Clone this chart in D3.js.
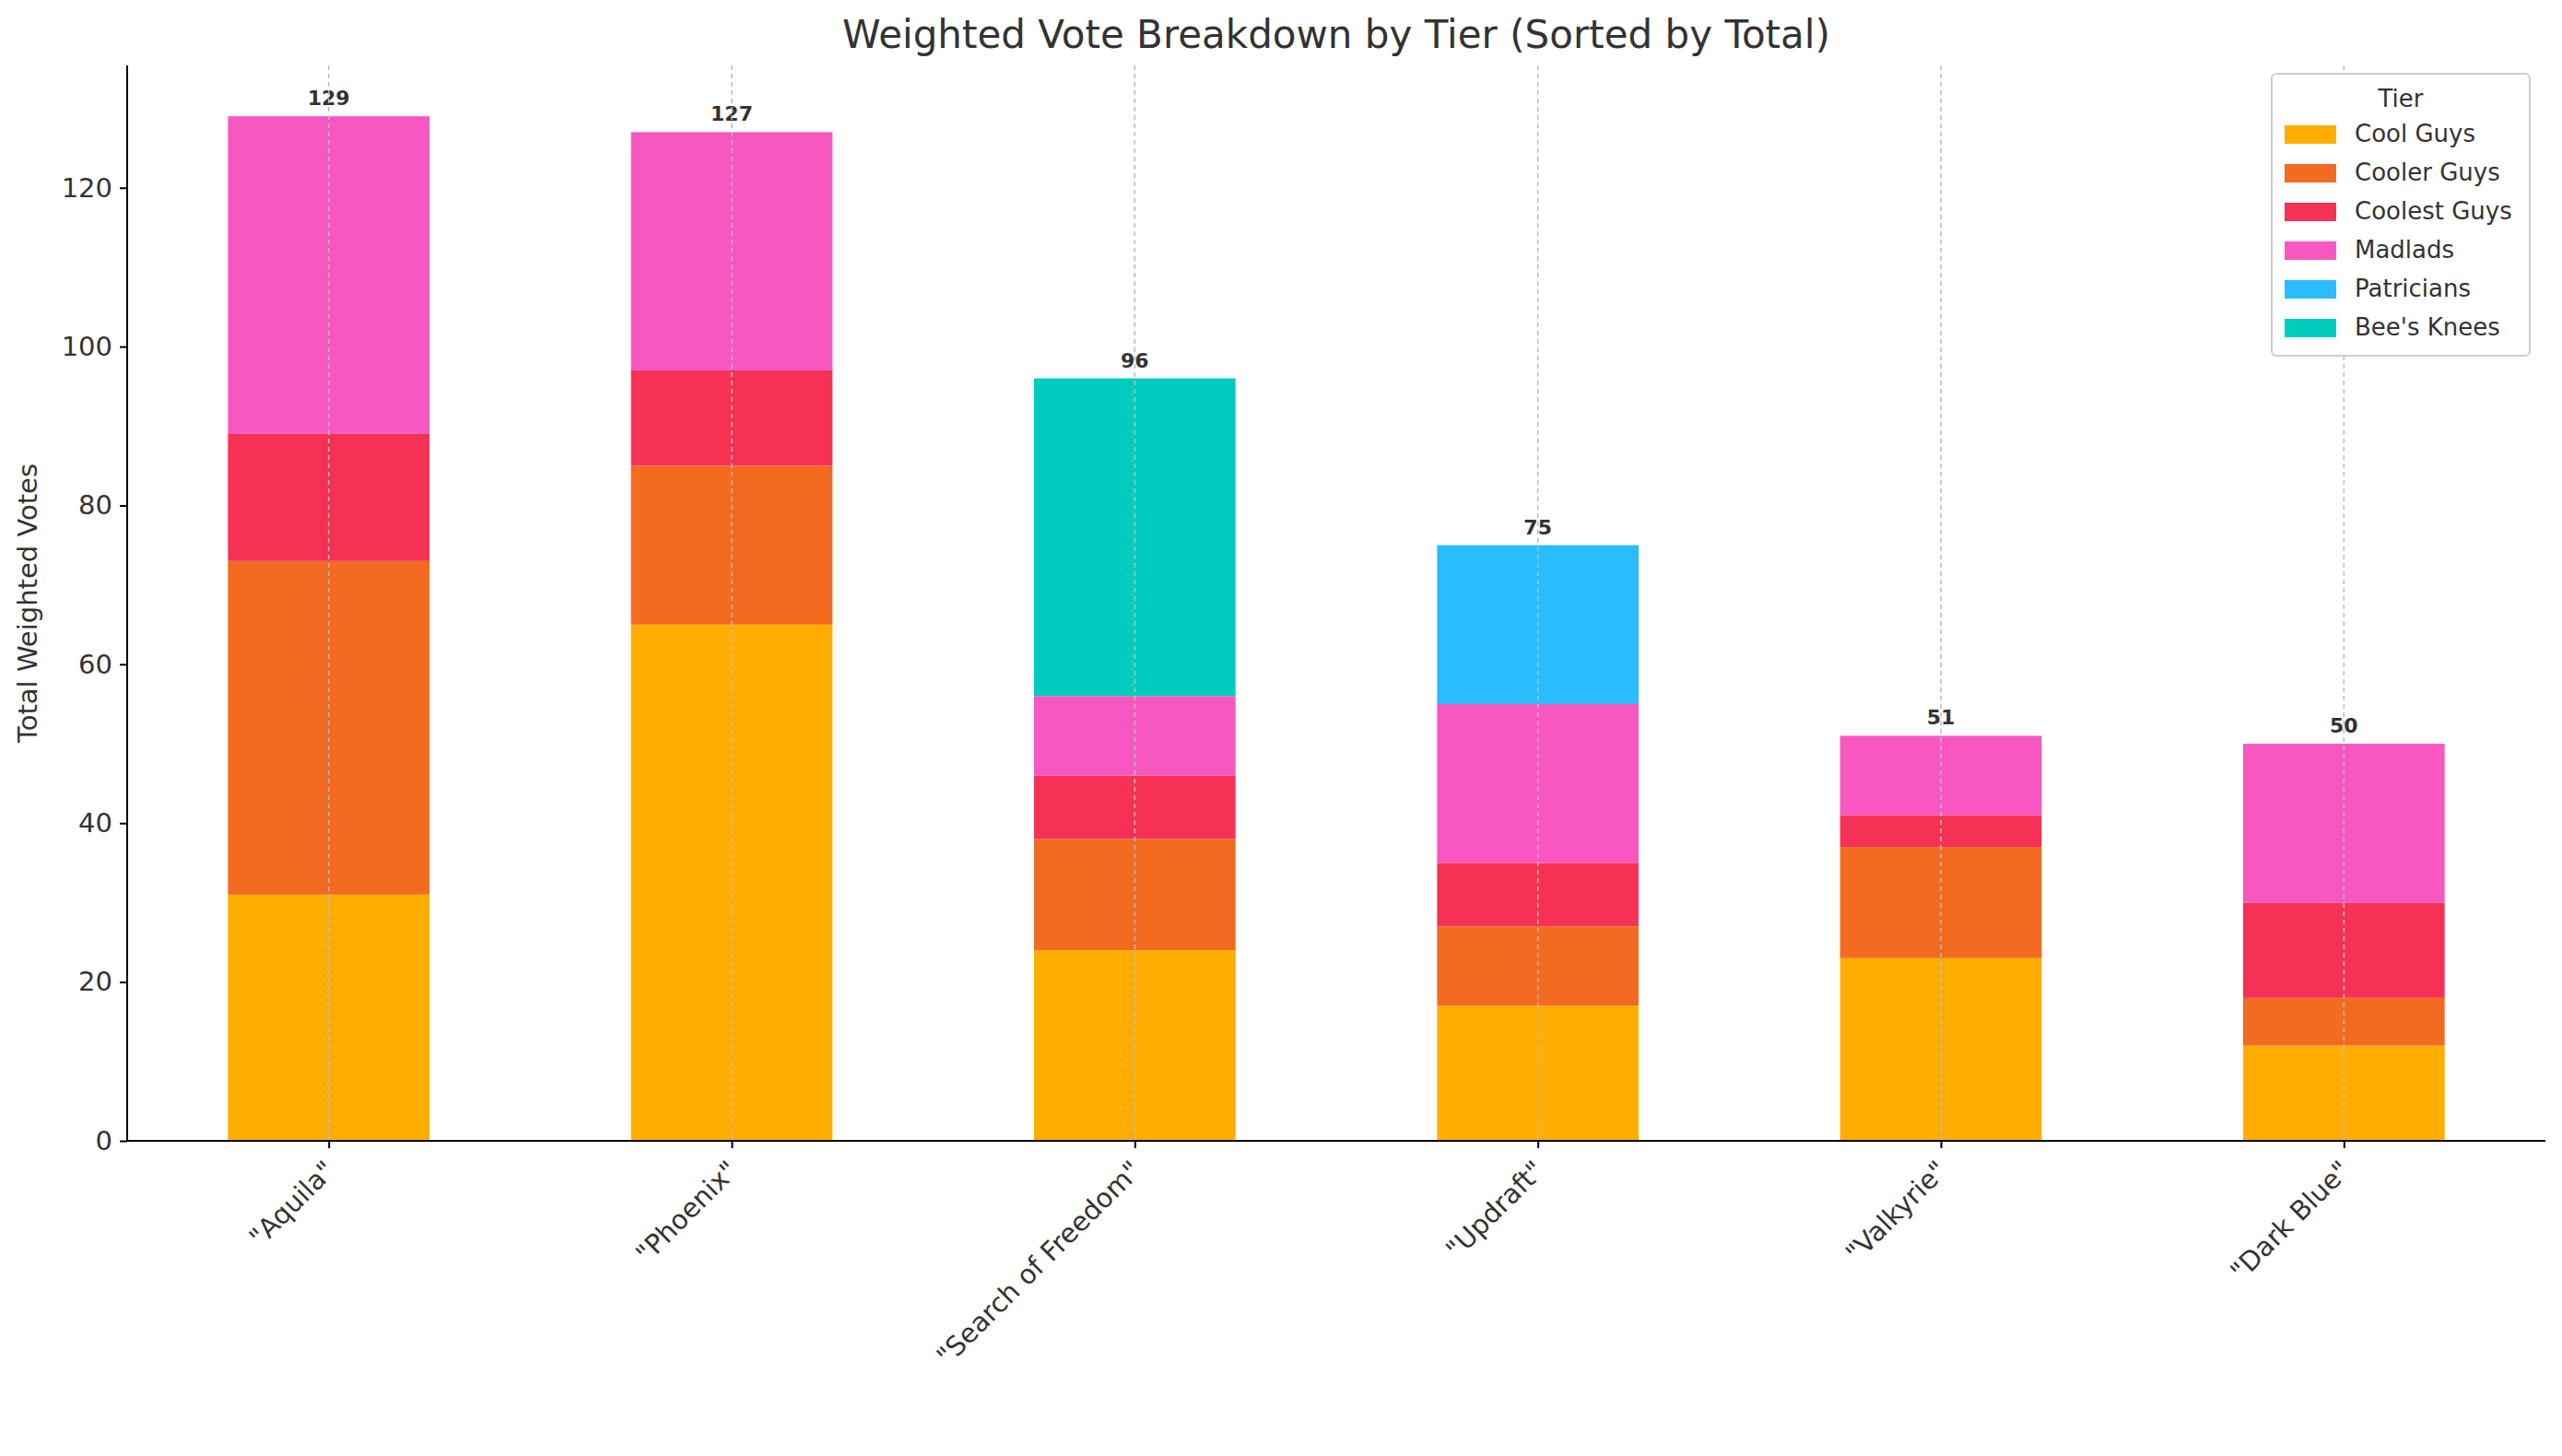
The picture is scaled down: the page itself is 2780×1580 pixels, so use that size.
<!DOCTYPE html><html><head><meta charset="utf-8"><script src="https://cdn.jsdelivr.net/npm/d3@7"></script>
<style>body{margin:0;background:#fff}text{font-family:"DejaVu Sans",sans-serif;fill:#333}</style></head><body>
<svg id="c" width="2780" height="1580"></svg>
<script>
const categories=['"Aquila"','"Phoenix"','"Search of Freedom"','"Updraft"','"Valkyrie"','"Dark Blue"'];
const tiers=["Cool Guys","Cooler Guys","Coolest Guys","Madlads","Patricians","Bee's Knees"];
const colors=["#FFAE00","#F26B21","#F53255","#F857C1","#29BDFD","#00CBBF"];
const coolGuys=[31,65,24,17,23,12];
const coolerGuys=[42,20,14,10,14,6];
const coolestGuys=[16,12,8,8,4,12];
const madlads=[40,30,10,20,10,20];
const patricians=[0,0,0,20,0,0];
const beesKnees=[0,0,40,0,0,0];
const yTicks=[0,20,40,60,80,100,120];
const series=[coolGuys,coolerGuys,coolestGuys,madlads,patricians,beesKnees];
const svg=d3.select("#c");
const L=138,R=2762,T=71,B=1238;
const x=d3.scaleLinear().domain([-0.5,5.5]).range([L,R]);
const y=d3.scaleLinear().domain([0,135.4]).range([B,T]);
const bw=(x(1)-x(0))*0.5;
categories.forEach((c,i)=>{
  let base=0;
  series.forEach((s,k)=>{const v=s[i];if(!v)return;
    svg.append("rect").attr("x",x(i)-bw/2).attr("width",bw).attr("y",y(base+v)).attr("height",y(base)-y(base+v)).attr("fill",colors[k]);
    base+=v;});
  svg.append("text").attr("x",x(i)).attr("y",y(base)-12).attr("text-anchor","middle").attr("font-size",22).attr("font-weight","bold").text(base);
  svg.append("line").attr("x1",x(i)).attr("x2",x(i)).attr("y1",T).attr("y2",B).attr("stroke","#bbb").attr("stroke-width",1.5).attr("stroke-dasharray","5,4");
});
const ya=svg.append("g").attr("transform",`translate(${L},0)`).call(d3.axisLeft(y).tickValues(yTicks).tickSize(8).tickPadding(8));
ya.selectAll("text").attr("font-size",29);
const xa=svg.append("g").attr("transform",`translate(0,${B})`).call(d3.axisBottom(x).tickValues(d3.range(6)).tickFormat(i=>categories[i]).tickSize(8));
xa.selectAll("text").attr("font-size",29).attr("text-anchor","end").attr("dy","0.4em").attr("transform",function(){const t=d3.select(this.parentNode).attr("transform");return "translate(-8,18) rotate(-45)";});
[ya,xa].forEach(a=>{a.selectAll("path,line").attr("stroke","#000").attr("stroke-width",2);a.select(".domain").attr("d",a===ya?`M0,${T}V${B}`:`M${L},0H${R}`);});
svg.append("text").attr("x",(L+R)/2).attr("y",52).attr("text-anchor","middle").attr("font-size",42).text("Weighted Vote Breakdown by Tier (Sorted by Total)");
svg.append("text").attr("transform",`translate(40,${(T+B)/2}) rotate(-90)`).attr("text-anchor","middle").attr("font-size",29).text("Total Weighted Votes");
const lg=svg.append("g").attr("transform","translate(2465,80)");
lg.append("rect").attr("width",280).attr("height",306).attr("fill","#fff").attr("stroke","#ccc").attr("stroke-width",2).attr("rx",5);
lg.append("text").attr("x",140).attr("y",36).attr("text-anchor","middle").attr("font-size",26).text("Tier");
tiers.forEach((t,k)=>{const g=lg.append("g").attr("transform",`translate(14,${70+k*42})`);
  g.append("rect").attr("width",56).attr("height",20).attr("y",-14).attr("fill",colors[k]);
  g.append("text").attr("x",76).attr("y",4).attr("font-size",26).text(t);});
</script></body></html>
